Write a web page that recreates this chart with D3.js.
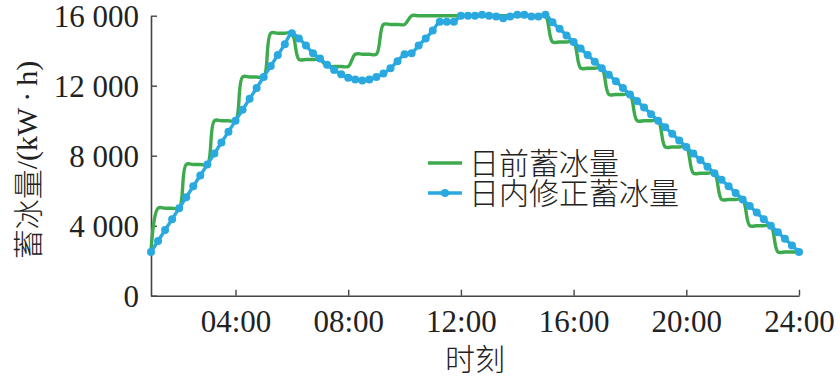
<!DOCTYPE html>
<html><head><meta charset="utf-8">
<script src="https://cdn.jsdelivr.net/npm/d3@7"></script>
<style>body{margin:0;background:#fff}svg{display:block}</style>
</head><body>
<svg id="c" width="840" height="383"></svg>
<script>
const times = ["01:00","01:15","01:30","01:45","02:00","02:15","02:30","02:45","03:00","03:15","03:30","03:45","04:00","04:15","04:30","04:45","05:00","05:15","05:30","05:45","06:00","06:15","06:30","06:45","07:00","07:15","07:30","07:45","08:00","08:15","08:30","08:45","09:00","09:15","09:30","09:45","10:00","10:15","10:30","10:45","11:00","11:15","11:30","11:45","12:00","12:15","12:30","12:45","13:00","13:15","13:30","13:45","14:00","14:15","14:30","14:45","15:00","15:15","15:30","15:45","16:00","16:15","16:30","16:45","17:00","17:15","17:30","17:45","18:00","18:15","18:30","18:45","19:00","19:15","19:30","19:45","20:00","20:15","20:30","20:45","21:00","21:15","21:30","21:45","22:00","22:15","22:30","22:45","23:00","23:15","23:30","23:45","24:00"];

const dayAhead = [2500,
 5000,5000,5000,5000, 7500,7500,7500,7500, 10000,10000,10000,10000, 12500,12500,12500,12500, 15000,15000,15000,15000,
 13500,13500,13500,13500, 13100,13100,13100,13100, 13800,13800,13800,13800, 15500,15500,15500,15500,
 16000,16000,16000,16000, 16000,16000,16000,16000, 16000,16000,16000,16000, 16000,16000,16000,16000, 16000,16000,16000,16000,
 14500,14500,14500,14500, 13000,13000,13000,13000, 11500,11500,11500,11500, 10000,10000,10000,10000, 8500,8500,8500,8500,
 7000,7000,7000,7000, 5500,5500,5500,5500, 4000,4000,4000,4000, 2500,2500,2500,2500];

const intraday = [2500,3125,3750,4375,5000,5625,6250,6875,7500,8125,8750,9375,10000,10625,11250,11875,12500,13125,13750,14375,15000,
 14700,14300,13850,13550,13200,12900,12650,12450,12350,12300,12350,12500,12700,13000,13400,13800,13850,14300,14700,15150,15650,15650,15650,16000,
 16000,16000,16050,16000,15950,15850,15950,16050,16050,15950,15950,16050,
 15625,15250,14875,14500,14125,13750,13375,13000,12625,12250,11875,11500,11125,10750,10375,10000,9625,9250,8875,8500,8125,7750,7375,7000,6625,6250,5875,5500,5125,4750,4375,4000,3625,3250,2875,2500];

const xTickTimes = ["04:00","08:00","12:00","16:00","20:00","24:00"];
const yTickValues = [0,4000,8000,12000,16000];
const yTickLabels = ["0","4 000","8 000","12 000","16 000"];
const seriesNames = ["日前蓄冰量","日内修正蓄冰量"];
const xTitle = "时刻";

const toHour = s => { const [h,m] = s.split(":").map(Number); return h + m/60; };

const svg = d3.select("#c");
const x = d3.scaleLinear().domain([1,24]).range([151,799]);
const y = d3.scaleLinear().domain([0,16000]).range([295.7,15.7]);
const green = "#3dab4d", blue = "#29a9e0", axisColor = "#444";
const serif = "'Liberation Serif','Times New Roman',serif";
const cjk = "'Noto Sans CJK SC','Noto Sans CJK JP',sans-serif";

// axes
const xAxis = svg.append("g").attr("transform",`translate(0,${y(0)})`)
  .call(d3.axisBottom(x).tickValues(xTickTimes.map(toHour)).tickSizeInner(-6).tickSizeOuter(0).tickFormat((d,i)=>xTickTimes[i]));
const yAxis = svg.append("g").attr("transform",`translate(${x(1)},0)`)
  .call(d3.axisLeft(y).tickValues(yTickValues).tickSizeInner(-6).tickSizeOuter(0).tickFormat((d,i)=>yTickLabels[i]));
[xAxis,yAxis].forEach(g=>{
  g.select(".domain").attr("stroke",axisColor).attr("stroke-width",1.6);
  g.selectAll(".tick line").attr("stroke",axisColor).attr("stroke-width",1.4);
  g.selectAll("text").attr("font-family",serif).attr("font-size",31).attr("fill","#222");
});
xAxis.selectAll("text").attr("y",0).attr("dy",0).attr("transform","translate(0,36)");
yAxis.selectAll("text").attr("x",-12).attr("dy","0.34em");

// lines
const pts = s => s.map((v,i)=>[toHour(times[i]),v]);
const line = d3.line().x(d=>x(d[0])).y(d=>y(d[1])).curve(d3.curveCatmullRom.alpha(0.5));
svg.append("path").datum(pts(dayAhead)).attr("d",line).attr("fill","none")
  .attr("stroke",green).attr("stroke-width",3.4).attr("stroke-linejoin","round");
svg.append("path").datum(pts(intraday)).attr("d",line).attr("fill","none")
  .attr("stroke",blue).attr("stroke-width",3.4).attr("stroke-linejoin","round");
svg.append("g").selectAll("circle").data(pts(intraday)).join("circle")
  .attr("cx",d=>x(d[0])).attr("cy",d=>y(d[1])).attr("r",4).attr("fill",blue);

// legend
const lg = svg.append("g");
[[green,163,false],[blue,193,true]].forEach(([c,ly,dot],i)=>{
  lg.append("line").attr("x1",428).attr("x2",462).attr("y1",ly).attr("y2",ly).attr("stroke",c).attr("stroke-width",3.6);
  if(dot) lg.append("circle").attr("cx",445).attr("cy",ly).attr("r",4).attr("fill",c);
  lg.append("text").attr("x",469).attr("y",ly-2).attr("dominant-baseline","central")
    .attr("font-family",cjk).attr("font-weight",300).attr("font-size",30).attr("fill","#222").text(seriesNames[i]);
});

// titles
svg.append("text").attr("x",(x(1)+x(24))/2).attr("y",357).attr("text-anchor","middle")
  .attr("dominant-baseline","central").attr("font-family",cjk).attr("font-weight",300).attr("font-size",30).attr("fill","#222").text(xTitle);
const yt = svg.append("text").attr("transform","translate(26,160) rotate(-90)").attr("text-anchor","middle")
  .attr("dominant-baseline","central").attr("font-size",30).attr("fill","#222");
yt.append("tspan").attr("font-family",cjk).attr("font-weight",300).text("蓄冰量");
yt.append("tspan").attr("font-family",serif).text("/(kW\u2009·\u2009h)");
</script>
</body></html>
